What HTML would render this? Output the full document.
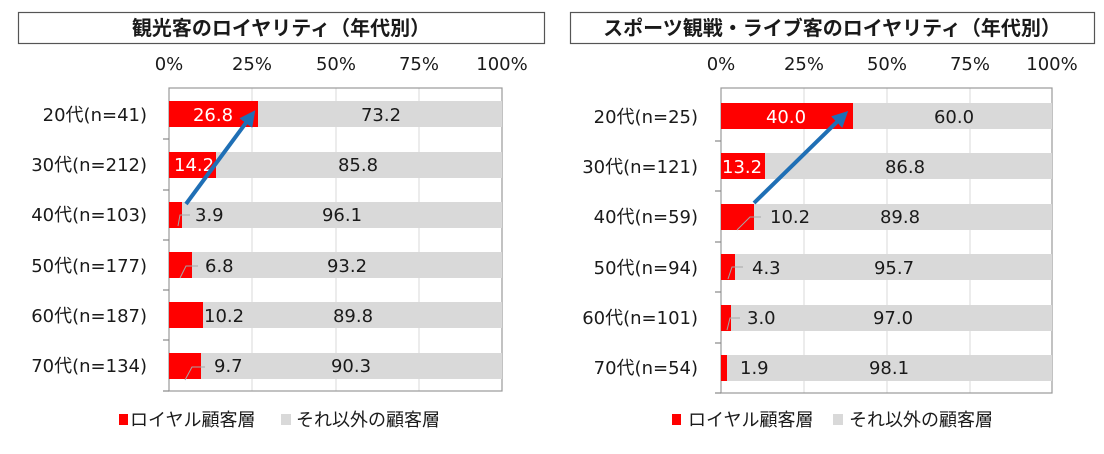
<!DOCTYPE html>
<html><head><meta charset="utf-8"><style>
html,body{margin:0;padding:0;background:#fff;}
svg{display:block;}
text{font-family:"DejaVu Sans","Noto Sans CJK JP",sans-serif;fill:#1a1a1a;}
.t{font-family:"Liberation Sans","Noto Sans CJK JP",sans-serif;}
</style></head><body>
<svg width="1104" height="454" viewBox="0 0 1104 454" xmlns="http://www.w3.org/2000/svg">
<defs>
<marker id="ah" markerWidth="4" markerHeight="4" refX="2.2" refY="2" orient="auto" markerUnits="strokeWidth">
<path d="M0,0 L4,2 L0,4 z" fill="#1f6fb5"/></marker>
</defs>
<!-- LEFT -->
<rect x="18.5" y="12.5" width="526" height="31" fill="#fff" stroke="#555" stroke-width="1.2"/>
<text class="t" x="281" y="35" font-size="20" text-anchor="middle" font-weight="bold">観光客のロイヤリティ（年代別）</text>
<g font-size="18" text-anchor="middle">
<text x="169" y="70">0%</text><text x="252" y="70">25%</text><text x="336" y="70">50%</text><text x="419" y="70">75%</text><text x="502" y="70">100%</text>
</g>
<g stroke="#d9d9d9" stroke-width="1"><line x1="252" y1="88" x2="252" y2="391"/><line x1="336" y1="88" x2="336" y2="391"/><line x1="419" y1="88" x2="419" y2="391"/></g>
<rect x="169" y="88" width="333" height="303" fill="none" stroke="#999" stroke-width="1.2"/>
<g stroke="#888" stroke-width="1.2"><line x1="163" y1="139" x2="169" y2="139"/><line x1="163" y1="190" x2="169" y2="190"/><line x1="163" y1="240" x2="169" y2="240"/><line x1="163" y1="290" x2="169" y2="290"/><line x1="163" y1="340" x2="169" y2="340"/><line x1="163" y1="391" x2="169" y2="391"/></g>
<g fill="#d9d9d9">
<rect x="169" y="101" width="333" height="26"/><rect x="169" y="152" width="333" height="26"/><rect x="169" y="202" width="333" height="26"/><rect x="169" y="252" width="333" height="26"/><rect x="169" y="302" width="333" height="26"/><rect x="169" y="353" width="333" height="26"/>
</g>
<g fill="#ff0000">
<rect x="169" y="101" width="89" height="26"/><rect x="169" y="152" width="47" height="26"/><rect x="169" y="202" width="13" height="26"/><rect x="169" y="252" width="23" height="26"/><rect x="169" y="302" width="34" height="26"/><rect x="169" y="353" width="32" height="26"/>
</g>
<g stroke="#a6a6a6" stroke-width="1" fill="none">
<polyline points="178,226 180,215 190,215"/><polyline points="180,278 186,266 198,266"/><polyline points="185,380 192,367 205,367"/>
</g>
<g font-size="18" text-anchor="end"><text x="147" y="121">20代(n=41)</text><text x="147" y="171">30代(n=212)</text><text x="147" y="221">40代(n=103)</text><text x="147" y="272">50代(n=177)</text><text x="147" y="322">60代(n=187)</text><text x="147" y="372">70代(n=134)</text></g>
<g font-size="18">
<text x="213" y="121" text-anchor="middle" style="fill:#fff">26.8</text><text x="381" y="121" text-anchor="middle">73.2</text>
<text x="174" y="171" style="fill:#fff">14.2</text><text x="358" y="171" text-anchor="middle">85.8</text>
<text x="195" y="221">3.9</text><text x="342" y="221" text-anchor="middle">96.1</text>
<text x="205" y="272">6.8</text><text x="347" y="272" text-anchor="middle">93.2</text>
<text x="204" y="322">10.2</text><text x="353" y="322" text-anchor="middle">89.8</text>
<text x="214" y="372">9.7</text><text x="351" y="372" text-anchor="middle">90.3</text>
</g>
<line x1="186" y1="204" x2="251" y2="116" stroke="#1f6fb5" stroke-width="4" marker-end="url(#ah)"/>
<rect x="119" y="414" width="9" height="11" fill="#ff0000"/>
<text x="130" y="426" font-size="18">ロイヤル顧客層</text>
<rect x="281" y="414" width="10" height="11" fill="#d9d9d9"/>
<text x="296" y="426" font-size="18">それ以外の顧客層</text>

<!-- RIGHT -->
<rect x="570.5" y="12.5" width="524" height="31" fill="#fff" stroke="#555" stroke-width="1.2"/>
<text class="t" x="832" y="35" font-size="20" text-anchor="middle" font-weight="bold">スポーツ観戦・ライブ客のロイヤリティ（年代別）</text>
<g font-size="18" text-anchor="middle">
<text x="721" y="70">0%</text><text x="804" y="70">25%</text><text x="887" y="70">50%</text><text x="970" y="70">75%</text><text x="1052" y="70">100%</text>
</g>
<g stroke="#d9d9d9" stroke-width="1"><line x1="804" y1="88" x2="804" y2="393"/><line x1="887" y1="88" x2="887" y2="393"/><line x1="970" y1="88" x2="970" y2="393"/></g>
<rect x="721" y="88" width="331" height="305" fill="none" stroke="#999" stroke-width="1.2"/>
<g stroke="#888" stroke-width="1.2"><line x1="715" y1="141" x2="721" y2="141"/><line x1="715" y1="191" x2="721" y2="191"/><line x1="715" y1="242" x2="721" y2="242"/><line x1="715" y1="292" x2="721" y2="292"/><line x1="715" y1="343" x2="721" y2="343"/><line x1="715" y1="393" x2="721" y2="393"/></g>
<g fill="#d9d9d9">
<rect x="721" y="103" width="331" height="26"/><rect x="721" y="153" width="331" height="26"/><rect x="721" y="204" width="331" height="26"/><rect x="721" y="254" width="331" height="26"/><rect x="721" y="305" width="331" height="26"/><rect x="721" y="355" width="331" height="26"/>
</g>
<g fill="#ff0000">
<rect x="721" y="103" width="132" height="26"/><rect x="721" y="153" width="44" height="26"/><rect x="721" y="204" width="33" height="26"/><rect x="721" y="254" width="14" height="26"/><rect x="721" y="305" width="10" height="26"/><rect x="721" y="355" width="6" height="26"/>
</g>
<g stroke="#a6a6a6" stroke-width="1" fill="none">
<polyline points="737,230 750,217 761,217"/><polyline points="728,279 732,267 743,267"/><polyline points="727,330 730,318 740,318"/>
</g>
<g font-size="18" text-anchor="end"><text x="698" y="123">20代(n=25)</text><text x="698" y="173">30代(n=121)</text><text x="698" y="223">40代(n=59)</text><text x="698" y="274">50代(n=94)</text><text x="698" y="324">60代(n=101)</text><text x="698" y="374">70代(n=54)</text></g>
<g font-size="18">
<text x="786" y="123" text-anchor="middle" style="fill:#fff">40.0</text><text x="954" y="123" text-anchor="middle">60.0</text>
<text x="722" y="173" style="fill:#fff">13.2</text><text x="905" y="173" text-anchor="middle">86.8</text>
<text x="770" y="223">10.2</text><text x="900" y="223" text-anchor="middle">89.8</text>
<text x="752" y="274">4.3</text><text x="894" y="274" text-anchor="middle">95.7</text>
<text x="747" y="324">3.0</text><text x="893" y="324" text-anchor="middle">97.0</text>
<text x="740" y="374">1.9</text><text x="889" y="374" text-anchor="middle">98.1</text>
</g>
<line x1="754" y1="203" x2="843" y2="116" stroke="#1f6fb5" stroke-width="4" marker-end="url(#ah)"/>
<rect x="672" y="414" width="9" height="11" fill="#ff0000"/>
<text x="688" y="426" font-size="18">ロイヤル顧客層</text>
<rect x="833" y="414" width="10" height="11" fill="#d9d9d9"/>
<text x="849" y="426" font-size="18">それ以外の顧客層</text>
</svg>
</body></html>
